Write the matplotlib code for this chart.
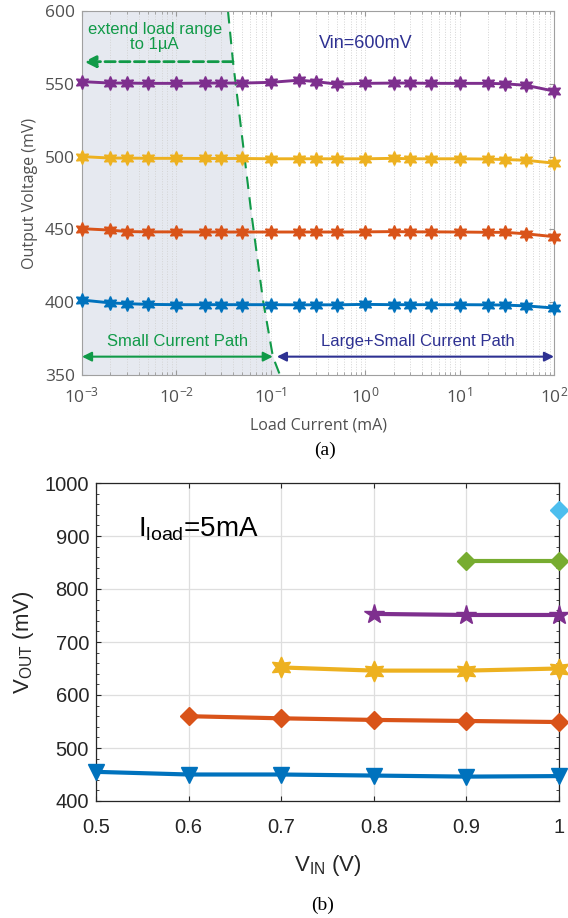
import numpy as np
import matplotlib
matplotlib.use("Agg")
import matplotlib.pyplot as plt

plt.rcParams['font.family'] = ['Liberation Sans', 'DejaVu Sans']
plt.rcParams['mathtext.fontset'] = 'custom'
plt.rcParams['mathtext.rm'] = 'Liberation Sans'
plt.rcParams['mathtext.it'] = 'Liberation Sans:italic'

# ---------------- data (a): output voltage vs load current, Vin=600mV
load_ma = [1e-3, 2e-3, 3e-3, 5e-3, 1e-2, 2e-2, 3e-2, 5e-2, 0.1, 0.2, 0.3, 0.5,
           1, 2, 3, 5, 10, 20, 30, 50, 100]
vout_550 = [551.5, 550.5, 550.5, 550.3, 550.3, 550.5, 550.5, 550.5, 551, 552.5, 551.5,
            549.8, 550.3, 550.5, 550.5, 550.3, 550.3, 550.3, 550, 549, 545]
vout_500 = [500, 499, 499, 498.8, 498.8, 498.7, 498.7, 498.7, 498.5, 498.5, 498.5,
            498.5, 498.5, 498.8, 498.5, 498.5, 498.5, 498.3, 498, 497.5, 495.5]
vout_450 = [450.5, 449.5, 448.5, 448.3, 448.3, 448.2, 448.2, 448.2, 448.2, 448.2, 448.2,
            448.2, 448.3, 448.5, 448.3, 448.3, 448.2, 448, 448, 447, 445]
vout_400 = [401.5, 399.5, 399, 398.5, 398.3, 398.3, 398.3, 398.3, 398.3, 398.2, 398.2,
            398.2, 398.5, 398.3, 398.3, 398.3, 398.3, 398.2, 398, 397.5, 396]

# boundary between small-current and large+small-current operation
boundary_ma = [0.0352, 0.0398, 0.0617, 0.0826, 0.1054, 0.125]
boundary_mv = [600, 565, 463, 401.5, 362.4, 350]

# ---------------- data (b): output voltage vs input voltage, Iload=5mA
vin_450 = [0.5, 0.6, 0.7, 0.8, 0.9, 1.0]
vout_b450 = [455, 450, 450, 448, 446, 447]
vin_550 = [0.6, 0.7, 0.8, 0.9, 1.0]
vout_b550 = [560, 556, 553, 551, 549]
vin_650 = [0.7, 0.8, 0.9, 1.0]
vout_b650 = [652, 646, 646, 650]
vin_750 = [0.8, 0.9, 1.0]
vout_b750 = [753, 751, 751]
vin_850 = [0.9, 1.0]
vout_b850 = [852, 852]
vin_950 = [1.0]
vout_b950 = [950]

BLUE = '#0072BD'
ORANGE = '#D95319'
YELLOW = '#EDB120'
PURPLE = '#7E2F8E'
GREEN = '#77AC30'
CYAN = '#4DBEEE'
ANN_GREEN = '#119a48'
NAVY = '#2e3192'

fig = plt.figure(figsize=(5.68, 9.18), dpi=100)

# ======================= (a)
ax1 = fig.add_axes([82 / 568, 1 - 375 / 918, 472 / 568, 364 / 918])
hexstar = (6, 1, 0)
for yv, c in [(vout_400, BLUE), (vout_450, ORANGE), (vout_500, YELLOW), (vout_550, PURPLE)]:
    ax1.plot(load_ma, yv, color=c, lw=2.1, marker=hexstar, ms=10, clip_on=False, zorder=3)

ax1.fill_betweenx(boundary_mv, 1e-3, boundary_ma, color='#e6e9f0', zorder=0, lw=0)
ax1.plot(boundary_ma, boundary_mv, color=ANN_GREEN, lw=1.5, dashes=(6, 4), zorder=2)

ax1.set_xscale('log')
ax1.set_xlim(1e-3, 1e2)
ax1.set_ylim(350, 600)
ax1.set_yticks(np.arange(350, 601, 50))
ax1.grid(True, which='both', axis='x', linestyle=':', color='#d4d4d4', lw=0.7)
ax1.tick_params(which='both', direction='in', top=True, right=True, colors='#9a9a9a',
                labelcolor='#505050', labelsize=12.5)
ax1.tick_params(axis='x', pad=8)
ax1.tick_params(axis='y', pad=5)
for lab in ax1.get_xticklabels() + ax1.get_yticklabels():
    lab.set_family(['Open Sans', 'DejaVu Sans'])
for s in ax1.spines.values():
    s.set_color('#a0a0a0')
    s.set_linewidth(0.8)
ax1.set_xlabel('Load Current (mA)', fontsize=11.5, color='#505050', family=['Open Sans'], labelpad=8)
ax1.set_ylabel('Output Voltage (mV)', fontsize=11.5, color='#505050', family=['Open Sans'], labelpad=5)

ax1.text(0.0059, 582, 'extend load range\nto 1\u00b5A', color=ANN_GREEN, fontsize=12,
         ha='center', va='center', linespacing=1.0)
ax1.annotate('', xy=(1.05e-3, 565.2), xytext=(0.0398, 565.2),
             arrowprops=dict(arrowstyle='-|>', color=ANN_GREEN, lw=2, ls='--',
                             mutation_scale=18, shrinkA=0, shrinkB=0))
ax1.text(0.32, 578, 'Vin=600mV', color=NAVY, fontsize=13, ha='left', va='center')

ax1.annotate('', xy=(1e-3, 362.6), xytext=(0.105, 362.6),
             arrowprops=dict(arrowstyle='<|-|>', color=ANN_GREEN, lw=1.5,
                             mutation_scale=14, shrinkA=0, shrinkB=0))
ax1.text(0.0102, 373, 'Small Current Path', color=ANN_GREEN, fontsize=12,
         ha='center', va='center')
ax1.annotate('', xy=(0.116, 362.6), xytext=(100, 362.6),
             arrowprops=dict(arrowstyle='<|-|>', color=NAVY, lw=1.5,
                             mutation_scale=14, shrinkA=0, shrinkB=0))
ax1.text(3.6, 373, 'Large+Small Current Path', color=NAVY, fontsize=12,
         ha='center', va='center')

fig.text(325 / 568, 1 - 450 / 918, '(a)', family=['Liberation Serif'], fontsize=14,
         ha='center', va='center')

# ======================= (b)
ax2 = fig.add_axes([96 / 568, 1 - 801 / 918, 463 / 568, 318 / 918])
ax2.plot(vin_450, vout_b450, color=BLUE, lw=3, marker='v', ms=12, clip_on=False, zorder=3)
ax2.plot(vin_550, vout_b550, color=ORANGE, lw=3, marker='D', ms=9.5, clip_on=False, zorder=3)
ax2.plot(vin_650, vout_b650, color=YELLOW, lw=3, marker=hexstar, ms=15, clip_on=False, zorder=3)
ax2.plot(vin_750, vout_b750, color=PURPLE, lw=3, marker='*', ms=15, clip_on=False, zorder=3)
ax2.plot(vin_850, vout_b850, color=GREEN, lw=3, marker='D', ms=9.5, clip_on=False, zorder=3)
ax2.plot(vin_950, vout_b950, color=CYAN, lw=3, marker='D', ms=9.5, clip_on=False, zorder=3)

ax2.set_xlim(0.5, 1.0)
ax2.set_ylim(400, 1000)
ax2.set_xticks([0.5, 0.6, 0.7, 0.8, 0.9, 1.0])
ax2.set_xticklabels(['0.5', '0.6', '0.7', '0.8', '0.9', '1'])
ax2.set_yticks(np.arange(400, 1001, 100))
ax2.set_yticks(np.arange(400, 1001, 20), minor=True)
ax2.grid(True, which='major', color='#dedede', lw=0.9)
ax2.set_axisbelow(True)
ax2.tick_params(which='both', direction='in', top=True, right=True, colors='#262626',
                labelsize=14.5)
ax2.tick_params(which='minor', length=2)
ax2.tick_params(axis='x', pad=12)
ax2.tick_params(axis='y', pad=5)
for s in ax2.spines.values():
    s.set_color('#262626')
    s.set_linewidth(0.9)
ax2.set_xlabel(r'V$_{\mathrm{IN}}$ (V)', fontsize=16, color='#262626', labelpad=12)
ax2.set_ylabel(r'V$_{\mathrm{OUT}}$ (mV)', fontsize=16, color='#262626', labelpad=6)
ax2.text(0.545, 912, r'I$_{\mathrm{load}}$=5mA', fontsize=20, ha='left', va='center')

fig.text(323 / 568, 1 - 905 / 918, '(b)', family=['Liberation Serif'], fontsize=14,
         ha='center', va='center')

fig.savefig('out.png', dpi=100)
